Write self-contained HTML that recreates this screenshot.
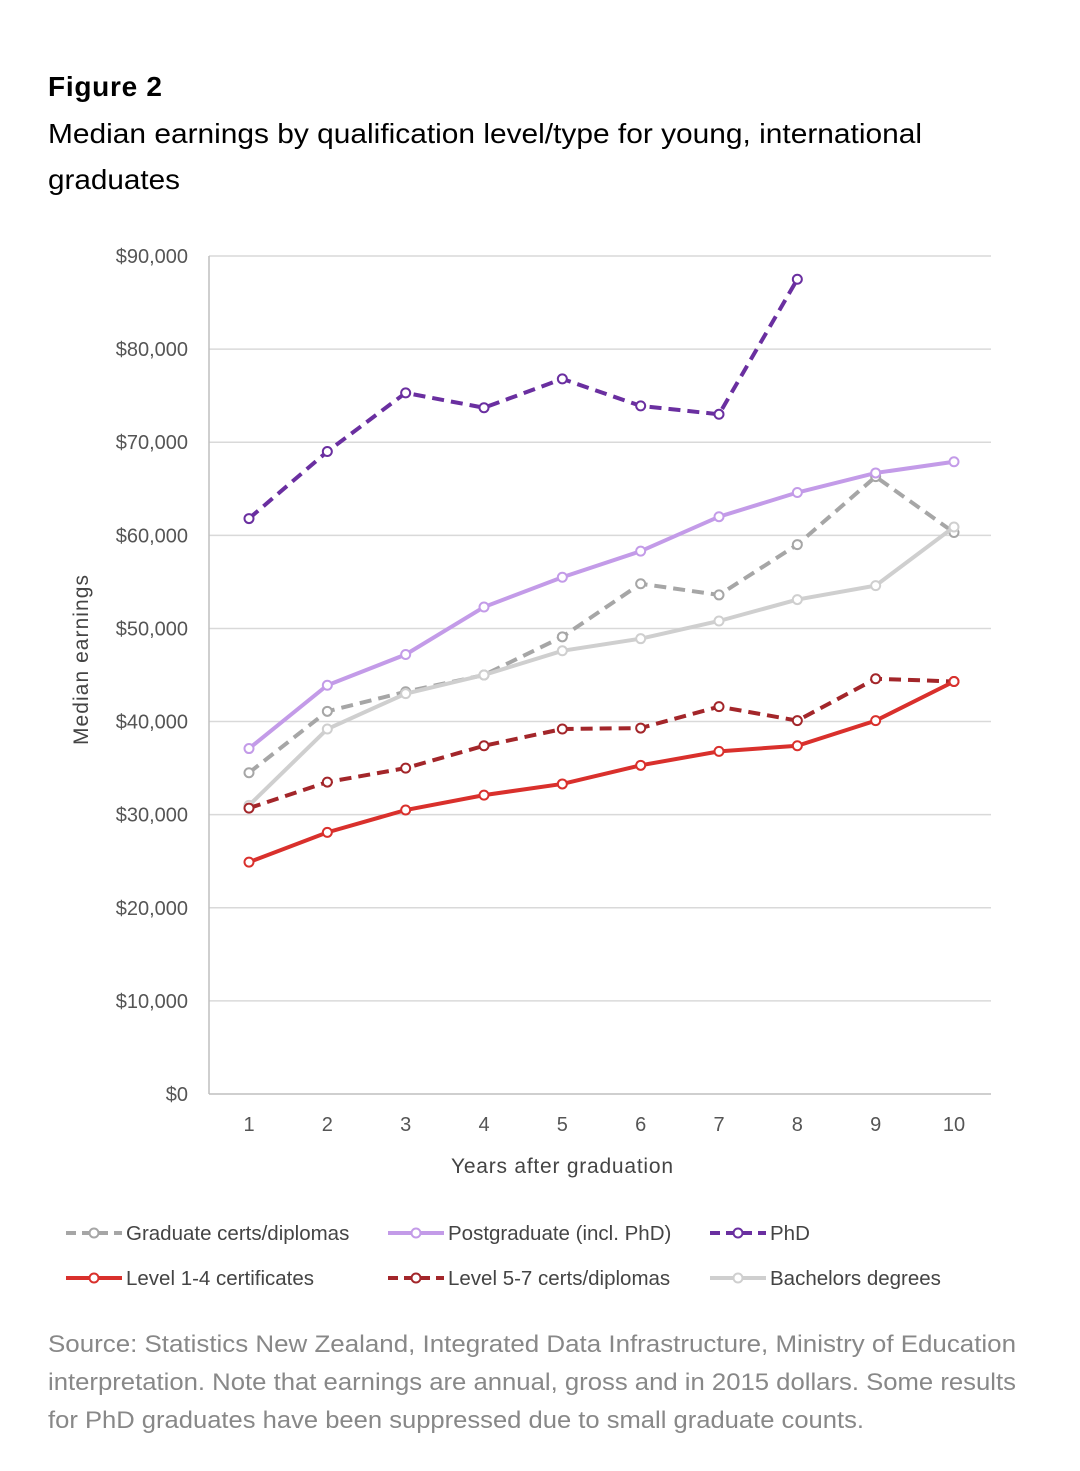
<!DOCTYPE html>
<html><head><meta charset="utf-8"><style>
body{margin:0;background:#fff;width:1080px;height:1466px;overflow:hidden;font-family:"Liberation Sans",sans-serif}
</style></head><body>
<svg id="c" width="1080" height="1466" xmlns="http://www.w3.org/2000/svg">
<text x="48" y="96" font-size="28" font-weight="bold" fill="#000" textLength="114">Figure 2</text>
<text x="48" y="143" font-size="28" fill="#000" textLength="874" lengthAdjust="spacingAndGlyphs">Median earnings by qualification level/type for young, international</text>
<text x="48" y="189" font-size="28" fill="#000" textLength="132" lengthAdjust="spacingAndGlyphs">graduates</text>
<g id="grid"></g><g id="series"></g><g id="legend"></g>
<text x="562" y="1173" font-size="21" fill="#444" text-anchor="middle" textLength="222">Years after graduation</text>
<text transform="translate(88,660) rotate(-90)" font-size="21" fill="#444" text-anchor="middle" textLength="170">Median earnings</text>
<g font-size="24" fill="#888">
<text x="48" y="1352" textLength="968" lengthAdjust="spacingAndGlyphs">Source: Statistics New Zealand, Integrated Data Infrastructure, Ministry of Education</text>
<text x="48" y="1390" textLength="968" lengthAdjust="spacingAndGlyphs">interpretation. Note that earnings are annual, gross and in 2015 dollars.  Some results</text>
<text x="48" y="1428" textLength="816" lengthAdjust="spacingAndGlyphs">for PhD graduates have been suppressed due to small graduate counts.</text>
</g>
</svg>
<script>
const years=[1,2,3,4,5,6,7,8,9,10];
const yTicks=[0,10000,20000,30000,40000,50000,60000,70000,80000,90000];
const gradCerts=[34.5,41.1,43.2,45.0,49.1,54.8,53.6,59.0,66.3,60.3];
const postgrad=[37.1,43.9,47.2,52.3,55.5,58.3,62.0,64.6,66.7,67.9];
const phd=[61.8,69.0,75.3,73.7,76.8,73.9,73.0,87.5];
const level14=[24.9,28.1,30.5,32.1,33.3,35.3,36.8,37.4,40.1,44.3];
const level57=[30.7,33.5,35.0,37.4,39.2,39.3,41.6,40.1,44.6,44.3];
const bachelors=[31.0,39.2,43.0,45.0,47.6,48.9,50.8,53.1,54.6,60.9];
const NS="http://www.w3.org/2000/svg";
const X0=209,X1=991,Y0=1094,Y1=256;
const xs=i=>249+(i-1)*(954-249)/9;
const ys=v=>Y0-(v-0)*(Y0-Y1)/90000;
function mk(t,a,p){const e=document.createElementNS(NS,t);for(const k in a)e.setAttribute(k,a[k]);p.appendChild(e);return e;}
const g=document.getElementById('grid');
yTicks.forEach(v=>{
 const l=mk('line',{x1:X0,x2:X1,y1:ys(v),y2:ys(v),stroke:v?'#d9d9d9':'#bfbfbf','stroke-width':1.5},g);
 
 
 const t=mk('text',{x:188,y:ys(v)+7,'font-size':20,fill:'#555','text-anchor':'end'},g);
 t.textContent='$'+v.toLocaleString('en-US');
 
 
});
mk('line',{x1:X0,x2:X0,y1:Y1,y2:Y0,stroke:'#bfbfbf','stroke-width':1.5},g);
years.forEach(y=>{
 const t=mk('text',{x:xs(y),y:1131,'font-size':20,fill:'#555','text-anchor':'middle'},g);
 t.textContent=y;
 
 
});
const defs=[
 [gradCerts,'#a6a6a6',true,'graduate-certs'],
 [bachelors,'#cfcfcf',false,'bachelors'],
 [postgrad,'#c39be8',false,'postgraduate'],
 [level57,'#a3262a',true,'level-5-7'],
 [level14,'#d9302c',false,'level-1-4'],
 [phd,'#6a2fa0',true,'phd']];
const sg=document.getElementById('series');
defs.forEach(([d,c,dash,n])=>{
 const pts=d.map((v,i)=>xs(i+1)+','+ys(v*1000)).join(' ');
 const pl=mk('polyline',{points:pts,fill:'none',stroke:c,'stroke-width':4,'stroke-dasharray':dash?'12,7':'none'},sg);
 
 
 d.forEach((v,i)=>{
  const m=mk('circle',{cx:xs(i+1),cy:ys(v*1000),r:4.5,fill:'#fff',stroke:c,'stroke-width':2},sg);
  
  
 });
});
const lg=document.getElementById('legend');
const lorder=[[0,'#a6a6a6',true,66,1233],[2,'#c39be8',false,388,1233],[5,'#6a2fa0',true,710,1233],[4,'#d9302c',false,66,1278],[3,'#a3262a',true,388,1278],[1,'#cfcfcf',false,710,1278]];
const lnames=["Graduate certs/diplomas","Bachelors degrees","Postgraduate (incl. PhD)","Level 5-7 certs/diplomas","Level 1-4 certificates","PhD"];
lorder.forEach(([k,c,dash,x,y])=>{
 const gg=mk('g',{},lg);
 
 
 mk('line',{x1:x,x2:x+56,y1:y,y2:y,stroke:c,'stroke-width':4,'stroke-dasharray':dash?'10,6':'none'},gg);
 mk('circle',{cx:x+28,cy:y,r:4.5,fill:'#fff',stroke:c,'stroke-width':2},gg);
 const t=mk('text',{x:x+60,y:y+7,'font-size':20.5,fill:'#444'},gg);
 t.textContent=lnames[k];
});
</script>
</body></html>
